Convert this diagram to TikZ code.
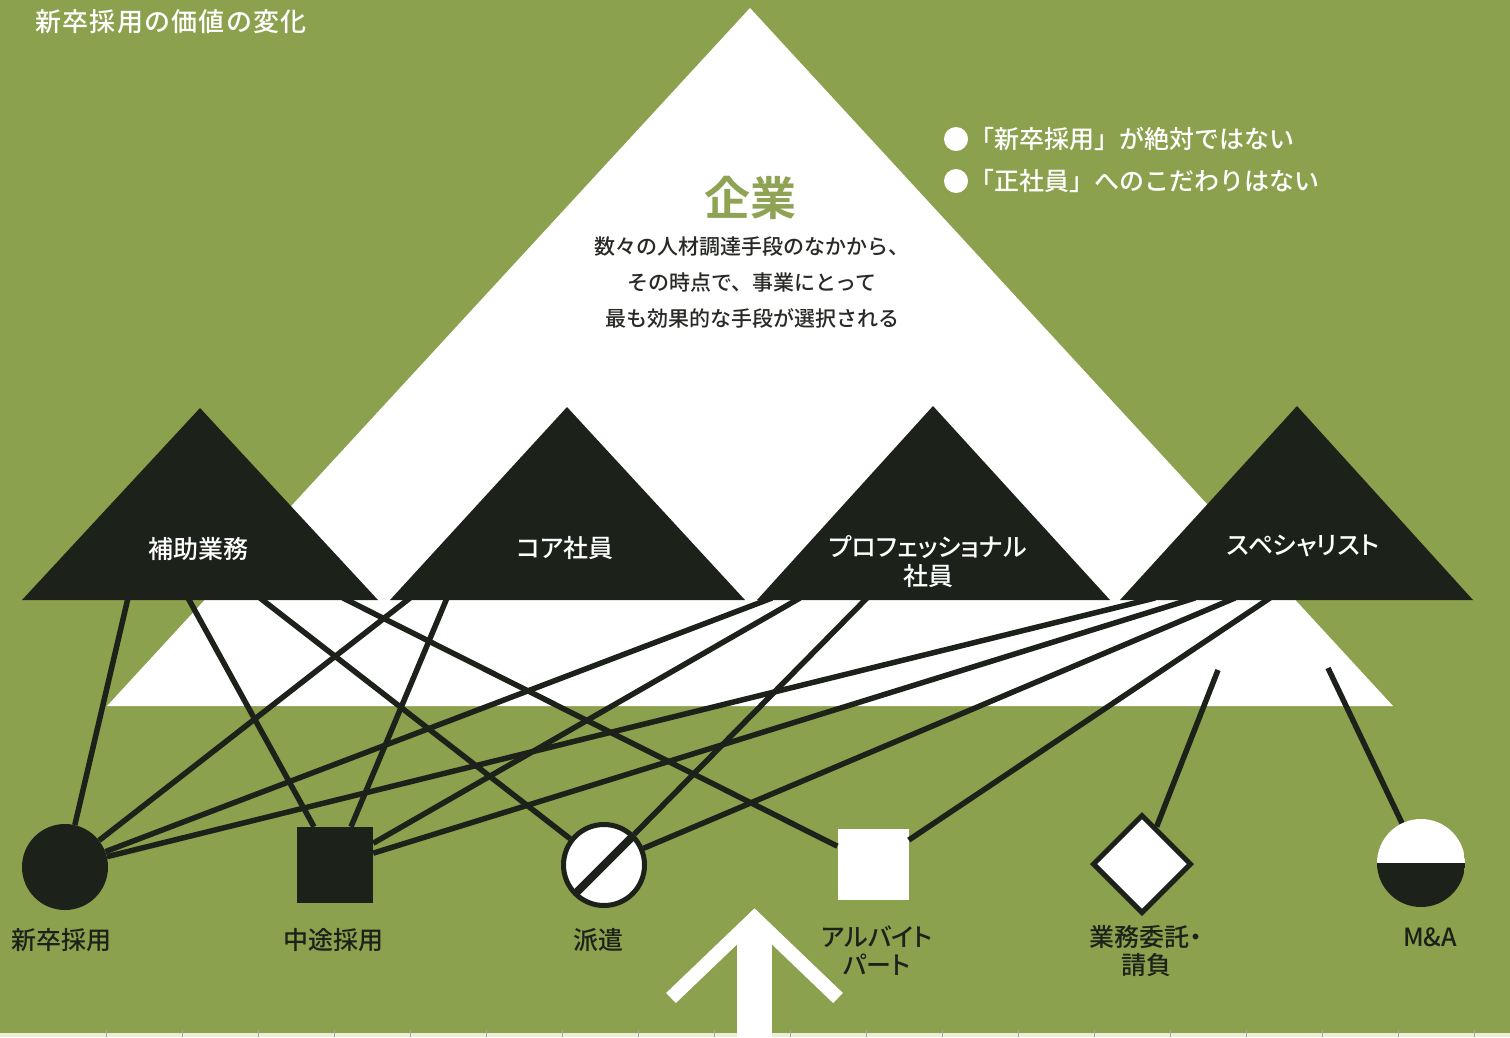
\documentclass[tikz,border=0pt]{standalone}
\usepackage{fontspec}
\setmainfont{Noto Sans CJK JP}[UprightFont=* Medium, BoldFont=* Bold]
\newfontfamily\jpp{Noto Sans CJK JP}[UprightFont=* Medium, RawFeature=+palt]
\newfontfamily\jpt{Noto Sans CJK JP}[UprightFont=* Medium, LetterSpace=5]
\usetikzlibrary{shapes.geometric}
\definecolor{bg}{RGB}{139,161,77}
\definecolor{dk}{RGB}{28,33,26}
\definecolor{kg}{RGB}{143,163,84}
\definecolor{txt}{RGB}{40,42,38}
\definecolor{pale}{RGB}{236,239,214}
\begin{document}
\begin{tikzpicture}[x=1pt,y=-1pt,
  conn/.style={draw=dk, line width=5.5pt},
  darktri/.style={fill=dk},
  trilabel/.style={text=white, font=\jpp\fontsize{25}{29}\selectfont, align=center, inner sep=0pt},
  lbl/.style={text=dk, font=\jpp\fontsize{25}{28}\selectfont, align=center, inner sep=0pt},
  legend/.style={text=white, font=\fontsize{25}{30}\selectfont, anchor=west, inner sep=0pt},
  body/.style={text=txt, font=\fontsize{21}{36}\selectfont, align=center, inner sep=0pt}
]
\useasboundingbox (0,0) rectangle (1510,1037);
% background
\fill[bg] (0,0) rectangle (1510,1037);
\fill[pale] (0,1033) rectangle (1510,1037);
\foreach \t in {106,182,258,334,410,486,562,638,714,790,866,942,1018,1094,1170,1246,1322,1398,1474}
  \draw[gray!70, line width=0.8pt] (\t,1030) -- (\t,1037);

% title
\node[text=white, font=\jpt\fontsize{26}{30}\selectfont, anchor=west, inner sep=0pt] (title) at (35,22) {新卒採用の価値の変化};

% big white triangle
\fill[white] (750,8) -- (1393,706) -- (107,706) -- cycle;

% legend
\fill[white] (956,139) circle (12);
\fill[white] (956,181) circle (12);
\node[legend] (leg1) at (969,139) {「新卒採用」が絶対ではない};
\node[legend] (leg2) at (969,181) {「正社員」へのこだわりはない};

% center text
\node[text=kg, font=\bfseries\fontsize{46}{50}\selectfont, inner sep=0pt] (kigyo) at (750,198) {企業};
\node[body] (desc) at (752,283) {数々の人材調達手段のなかから、\\その時点で、事業にとって\\最も効果的な手段が選択される};

% bottom nodes
\node[circle, fill=dk, minimum size=86pt, inner sep=0pt] (shinsotsu) at (65,867) {};
\node[rectangle, fill=dk, minimum size=76pt, inner sep=0pt] (chuto) at (335,865) {};
\node[circle, draw=dk, line width=5pt, fill=white, minimum size=81pt, inner sep=0pt,
  path picture={\draw[dk, line width=8pt] (path picture bounding box.south west) -- (path picture bounding box.north east);}] (haken) at (604,865) {};
\node[rectangle, fill=white, minimum size=71pt, inner sep=0pt] (arubaito) at (873,864) {};
\node[diamond, draw=dk, line width=5pt, fill=white, minimum size=99pt, inner sep=0pt] (itaku) at (1142,864) {};
\node[circle, minimum size=88pt, inner sep=0pt,
  path picture={\fill[white] (path picture bounding box.north west) rectangle (path picture bounding box.east);
                \fill[dk] (path picture bounding box.west) rectangle (path picture bounding box.south east);}] (ma) at (1421,863) {};

% connector start points on triangle bases
\coordinate (a1) at (128,598);
\coordinate (a2) at (188,598);
\coordinate (a3) at (260,598);
\coordinate (a4) at (343,598);
\coordinate (b1) at (410,598);
\coordinate (b2) at (447,598);
\coordinate (c1) at (772,598);
\coordinate (c2) at (800,598);
\coordinate (c3) at (867,598);
\coordinate (d1) at (1155,598);
\coordinate (d2) at (1195,598);
\coordinate (d3) at (1235,598);
\coordinate (d4) at (1270,598);
\coordinate (e1) at (1218,670);
\coordinate (e2) at (1328,668);

% connectors
\draw[conn] (a1) -- (shinsotsu);
\draw[conn] (a2) -- (chuto);
\draw[conn] (a3) -- (haken);
\draw[conn] (a4) -- (arubaito);
\draw[conn] (b1) -- (shinsotsu);
\draw[conn] (b2) -- (chuto);
\draw[conn] (c1) -- (shinsotsu);
\draw[conn] (c2) -- (chuto);
\draw[conn] (c3) -- (haken);
\draw[conn] (d1) -- (shinsotsu);
\draw[conn] (d2) -- (chuto);
\draw[conn] (d3) -- (haken);
\draw[conn] (d4) -- (arubaito);
\draw[conn] (e1) -- (itaku);
\draw[conn] (e2) -- (ma);

% dark triangles
\fill[darktri] (200,408) -- (378,600) -- (22,600) -- cycle;
\fill[darktri] (567,407) -- (745,600) -- (390,600) -- cycle;
\fill[darktri] (933,406) -- (1110,600) -- (757,600) -- cycle;
\fill[darktri] (1297,406) -- (1473,600) -- (1120,600) -- cycle;
\node[trilabel] (t1) at (198,549) {補助業務};
\node[trilabel] (t2) at (565,548) {コア社員};
\node[trilabel] (t3) at (928,562) {プロフェッショナル\\社員};
\node[trilabel] (t4) at (1303,546) {スペシャリスト};

% bottom labels
\node[lbl] (l1) at (62,940) {新卒採用};
\node[lbl] (l2) at (333,940) {中途採用};
\node[lbl] (l3) at (598,940) {派遣};
\node[lbl] (l4) at (877,951) {アルバイト\\パート};
\node[lbl] (l5) at (1146,951) {業務委託・\\請負};
\node[lbl] (l6) at (1430,937) {M\&A};

% upward arrow
\fill[white] (737,1037) rectangle (772,925);
\draw[white, line width=14pt, miter limit=10] (671,998) -- (754.5,918) -- (838,998);
\end{tikzpicture}
\end{document}
